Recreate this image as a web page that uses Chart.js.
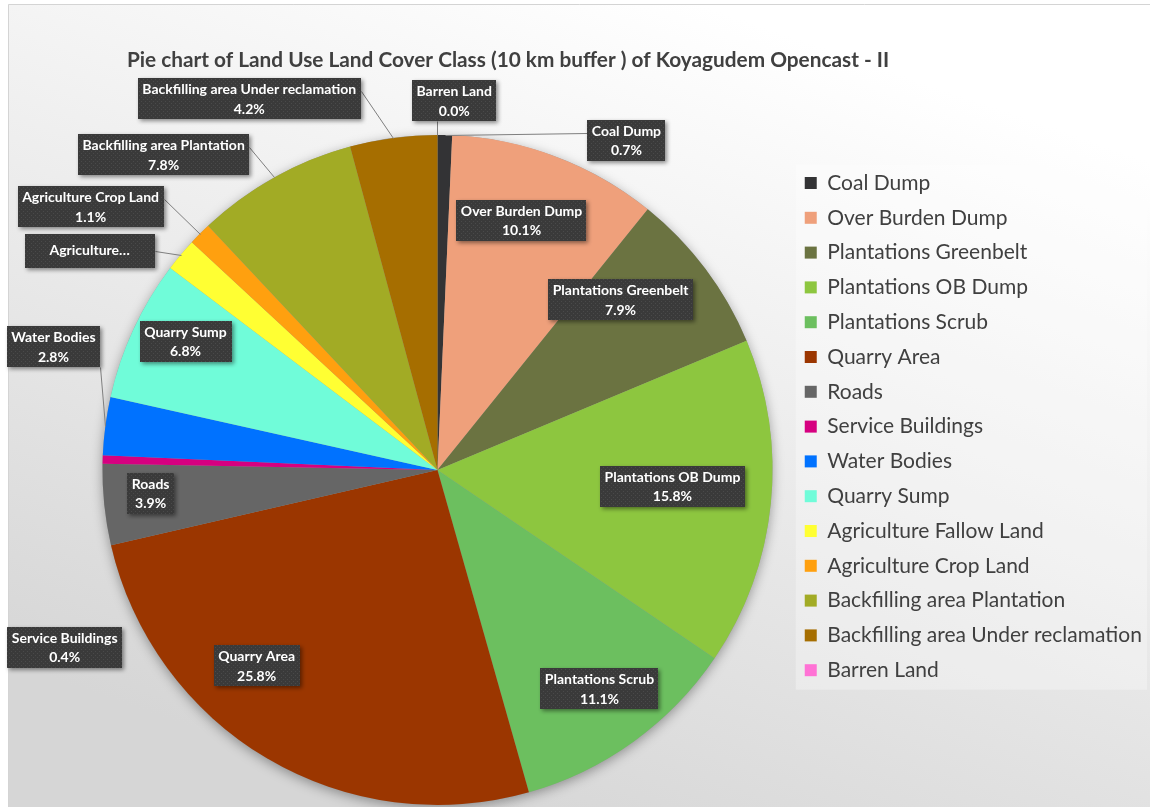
<!DOCTYPE html>
<html>
<head>
<meta charset="utf-8">
<script src="https://cdn.jsdelivr.net/npm/chart.js@4.4.0/dist/chart.umd.min.js"></script>
<style>
  html, body { margin: 0; padding: 0; background: #fff; }
  canvas { display: block; }
</style>
</head>
<body>
<canvas id="out" width="1150" height="807"></canvas>
<script>
const chartTitle = "Pie chart of Land Use Land Cover Class (10 km buffer ) of Koyagudem Opencast - II";

const classNames = [
  "Coal Dump",
  "Over Burden Dump",
  "Plantations Greenbelt",
  "Plantations OB Dump",
  "Plantations Scrub",
  "Quarry Area",
  "Roads",
  "Service Buildings",
  "Water Bodies",
  "Quarry Sump",
  "Agriculture Fallow Land",
  "Agriculture Crop Land",
  "Backfilling area Plantation",
  "Backfilling area Under reclamation",
  "Barren Land"
];

// share of the 10 km buffer, in percent
const classShares = [0.7, 10.1, 7.9, 15.8, 11.1, 25.8, 3.9, 0.4, 2.8, 6.8, 1.6, 1.1, 7.8, 4.2, 0.0];

const classColors = [
  "#333335", "#EFA07B", "#6B7341", "#8DC63F", "#6CBF5F",
  "#9B3600", "#666666", "#D60080", "#0072FF", "#70FCD9",
  "#FFFF33", "#FFA00F", "#A2AB25", "#A66E00", "#FF72D5"
];

// text shown in the data label boxes (Excel cut one of them short)
const labelNames = classNames.map(n => n === "Agriculture Fallow Land" ? "Agriculture\u2026" : n);

// where each label box sits: r = distance from centre in radii, a = degrees clockwise from 12 o'clock
const labelSpots = [
  { r: 1.135, a: 29.8, leader: "L" },
  { r: 0.787, a: 18.6 },
  { r: 0.746, a: 47.1 },
  { r: 0.703, a: 93.9 },
  { r: 0.813, a: 143.5 },
  { r: 0.796, a: 222.7 },
  { r: 0.859, a: 265.4 },
  { r: 1.232, a: 244.6 },
  { r: 1.204, a: 287.8, leader: "BR" },
  { r: 0.845, a: 297.1 },
  { r: 1.227, a: 302.2, leader: "R", w: 130, noPct: true },
  { r: 1.300, a: 307.2, leader: "R" },
  { r: 1.246, a: 319.0, leader: "R" },
  { r: 1.242, a: 333.1, leader: "R" },
  { r: 1.103, a: 2.6, leader: "B" }
];

const FONT = "Lato, 'Open Sans', sans-serif";

function makeDots() {
  const c = document.createElement("canvas");
  c.width = 4; c.height = 4;
  const g = c.getContext("2d");
  g.fillStyle = "#3a3a3a";
  g.fillRect(0, 0, 4, 4);
  g.fillStyle = "#4a4a4a";
  g.fillRect(1, 1, 1, 1);
  g.fillRect(3, 3, 1, 1);
  return c;
}

const backdrop = {
  id: "backdrop",
  beforeDraw(chart) {
    const ctx = chart.ctx;
    const w = chart.width, h = chart.height;
    ctx.save();
    ctx.fillStyle = "#ffffff";
    ctx.fillRect(0, 0, w, h);
    const grad = ctx.createLinearGradient(700, 4, 420, h);
    grad.addColorStop(0, "#ffffff");
    grad.addColorStop(1, "#d6d6d6");
    ctx.fillStyle = grad;
    ctx.fillRect(8, 4, w - 8, h - 4);
    ctx.strokeStyle = "#d4d4d4";
    ctx.lineWidth = 1;
    ctx.beginPath();
    ctx.moveTo(8.5, h);
    ctx.lineTo(8.5, 4.5);
    ctx.lineTo(w, 4.5);
    ctx.stroke();

    // legend panel
    const lg = chart.legend;
    const hb = lg.legendHitBoxes;
    if (hb && hb.length) {
      const top = hb[0].top - 8;
      const bottom = hb[hb.length - 1].top + hb[hb.length - 1].height + 9;
      const left = hb[0].left - 9;
      ctx.fillStyle = "rgba(255,255,255,0.3)";
      ctx.fillRect(left, top, w - 3 - left, bottom - top);
    }
    ctx.restore();
  },
  beforeDatasetsDraw(chart) {
    const arc = chart.getDatasetMeta(0).data[0];
    if (!arc) return;
    const ctx = chart.ctx;
    ctx.save();
    ctx.shadowColor = "rgba(0,0,0,0.35)";
    ctx.shadowBlur = 12;
    ctx.shadowOffsetX = 0;
    ctx.shadowOffsetY = 3;
    ctx.fillStyle = "#999";
    ctx.beginPath();
    ctx.arc(arc.x, arc.y, arc.outerRadius, 0, Math.PI * 2);
    ctx.fill();
    ctx.restore();
  },
  afterDraw(chart) {
    const ctx = chart.ctx;
    ctx.save();
    ctx.fillStyle = "#404040";
    ctx.font = "bold 20.8px " + FONT;
    ctx.textAlign = "center";
    ctx.textBaseline = "middle";
    ctx.fillText(chartTitle, 508, 60);
    ctx.restore();
  }
};

const sliceLabels = {
  id: "sliceLabels",
  afterDatasetsDraw(chart) {
    const ctx = chart.ctx;
    const meta = chart.getDatasetMeta(0);
    const values = chart.data.datasets[0].data;
    const total = values.reduce((s, v) => s + v, 0);
    const dots = ctx.createPattern(makeDots(), "repeat");
    ctx.save();
    ctx.font = "bold 14px " + FONT;
    const boxes = meta.data.map((arc, i) => {
      const spot = labelSpots[i];
      const lines = [labelNames[i]];
      if (!spot.noPct) lines.push((values[i] / total * 100).toFixed(1) + "%");
      const tw = Math.max(...lines.map(t => ctx.measureText(t).width));
      const bw = spot.w || tw + 9;
      const bh = lines.length === 2 ? 41 : 34;
      const ang = (spot.a - 90) * Math.PI / 180;
      const cx = arc.x + Math.cos(ang) * spot.r * arc.outerRadius;
      const cy = arc.y + Math.sin(ang) * spot.r * arc.outerRadius;
      return { arc, spot, lines, left: cx - bw / 2, top: cy - bh / 2, w: bw, h: bh, cx };
    });

    // leader lines
    ctx.strokeStyle = "#7f7f7f";
    ctx.lineWidth = 1;
    boxes.forEach(b => {
      if (!b.spot.leader) return;
      const mid = (b.arc.startAngle + b.arc.endAngle) / 2;
      const ex = b.arc.x + Math.cos(mid) * b.arc.outerRadius;
      const ey = b.arc.y + Math.sin(mid) * b.arc.outerRadius;
      const anchorY = b.lines.length === 2 ? b.top + 13 : b.top + b.h / 2;
      let sx, sy;
      if (b.spot.leader === "L") { sx = b.left; sy = anchorY; }
      else if (b.spot.leader === "R") { sx = b.left + b.w; sy = anchorY; }
      else if (b.spot.leader === "BR") { sx = b.left + b.w; sy = b.top + b.h; }
      else { sx = Math.min(Math.max(ex, b.left), b.left + b.w); sy = b.top + b.h; }
      ctx.beginPath();
      ctx.moveTo(Math.round(sx) + 0.5, Math.round(sy) + 0.5);
      ctx.lineTo(Math.round(ex) + 0.5, Math.round(ey) + 0.5);
      ctx.stroke();
    });

    // boxes and text
    boxes.forEach(b => {
      ctx.save();
      ctx.shadowColor = "rgba(0,0,0,0.45)";
      ctx.shadowBlur = 4;
      ctx.shadowOffsetX = 2;
      ctx.shadowOffsetY = 2;
      ctx.fillStyle = dots;
      ctx.fillRect(Math.round(b.left), Math.round(b.top), Math.round(b.w), b.h);
      ctx.restore();
      ctx.fillStyle = "#ffffff";
      ctx.textAlign = "center";
      ctx.textBaseline = "middle";
      if (b.lines.length === 2) {
        ctx.fillText(b.lines[0], b.cx, b.top + 11.5);
        ctx.fillText(b.lines[1], b.cx, b.top + 31);
      } else {
        ctx.fillText(b.lines[0], b.cx, b.top + b.h / 2);
      }
    });
    ctx.restore();
  }
};

const canvasCtx = document.getElementById("out").getContext("2d");

const chartConfig = {
  type: "pie",
  data: {
    labels: classNames,
    datasets: [
      {
        data: classShares,
        backgroundColor: classColors,
        borderWidth: 0
      }
    ]
  },
  options: {
    responsive: false,
    animation: false,
    devicePixelRatio: 1,
    layout: { padding: { left: 84, top: 135, right: -1.9, bottom: 2 } },
    plugins: {
      tooltip: { enabled: false },
      title: { display: false },
      legend: {
        position: "right",
        align: "start",
        title: { display: true, text: "", font: { size: 10 }, padding: { top: 0, bottom: 11.7 } },
        labels: {
          color: "#404040",
          font: { family: FONT, size: 21 },
          boxWidth: 12,
          boxHeight: 12,
          padding: 13.8
        }
      }
    }
  },
  plugins: [backdrop, sliceLabels]
};

window.chart = new Chart(canvasCtx, chartConfig);
</script>
</body>
</html>
